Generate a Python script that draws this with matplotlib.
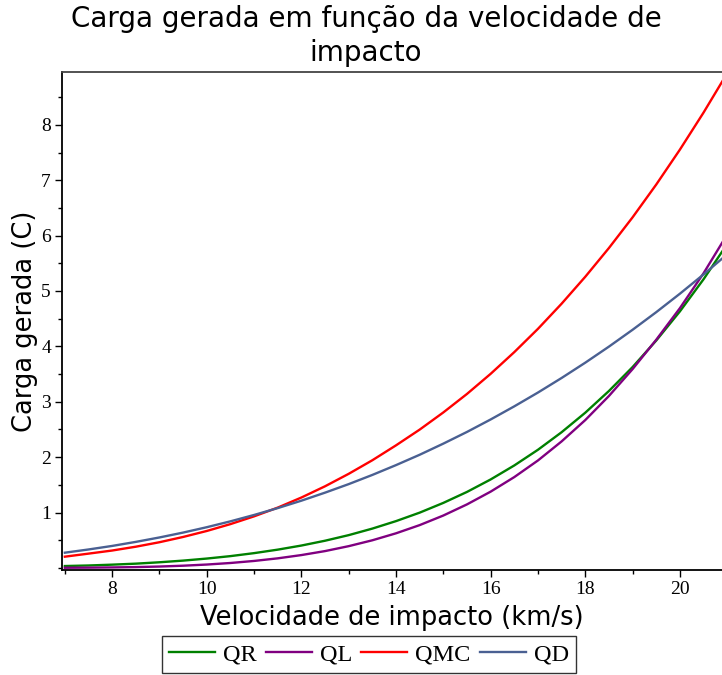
import matplotlib
matplotlib.use("Agg")
import matplotlib.pyplot as plt
from matplotlib.ticker import MultipleLocator

# velocidade de impacto (km/s) and charge
velocidade = [7.0, 7.5, 8.0, 8.5, 9.0, 9.5, 10.0, 10.5, 11.0, 11.5, 12.0, 12.5, 13.0, 13.5,
              14.0, 14.5, 15.0, 15.5, 16.0, 16.5, 17.0, 17.5, 18.0, 18.5, 19.0, 19.5,
              20.0, 20.5, 21.0]
QR = [0.035, 0.045, 0.060, 0.078, 0.103, 0.133, 0.170, 0.214, 0.268, 0.331, 0.405, 0.492,
      0.593, 0.711, 0.846, 0.999, 1.175, 1.373, 1.598, 1.851, 2.134, 2.451, 2.803, 3.195,
      3.627, 4.106, 4.632, 5.212, 5.847]
QL = [0.004, 0.006, 0.010, 0.016, 0.026, 0.041, 0.062, 0.090, 0.127, 0.174, 0.233, 0.305,
      0.394, 0.500, 0.626, 0.774, 0.947, 1.148, 1.378, 1.641, 1.941, 2.285, 2.670, 3.105,
      3.590, 4.120, 4.690, 5.320, 6.021]
QMC = [0.204, 0.259, 0.315, 0.384, 0.465, 0.560, 0.668, 0.792, 0.932, 1.090, 1.272, 1.475,
       1.700, 1.945, 2.214, 2.498, 2.808, 3.142, 3.505, 3.897, 4.317, 4.771, 5.257, 5.776,
       6.330, 6.922, 7.552, 8.221, 8.931]
QD = [0.276, 0.334, 0.398, 0.471, 0.551, 0.639, 0.736, 0.842, 0.957, 1.081, 1.215, 1.360,
      1.514, 1.680, 1.857, 2.044, 2.245, 2.456, 2.681, 2.918, 3.167, 3.430, 3.706, 3.996,
      4.300, 4.618, 4.951, 5.299, 5.663]

series = [("QR", QR, "#008000"), ("QL", QL, "#800080"),
          ("QMC", QMC, "#ff0000"), ("QD", QD, "#4a6092")]

fig = plt.figure(figsize=(7.22, 6.75), dpi=100)
ax = fig.add_axes([0.0859, 0.1556, 0.9141, 0.7377])

for name, vals, cor in series:
    ax.plot(velocidade, vals, color=cor, linewidth=1.7, label=name)

ax.set_xlim(6.94, 20.89)
ax.set_ylim(-0.036, 8.953)
ax.xaxis.set_major_locator(MultipleLocator(2))
ax.xaxis.set_minor_locator(MultipleLocator(1))
ax.set_yticks(range(1, 9))
ax.yaxis.set_minor_locator(MultipleLocator(0.5))
ax.tick_params(which="major", length=5, width=1, direction="out", pad=3)
ax.tick_params(which="minor", length=3, width=1, direction="out")
ax.tick_params(labelsize=14)
for lab in ax.get_xticklabels() + ax.get_yticklabels():
    lab.set_family("Liberation Serif")

ax.spines["right"].set_visible(False)
ax.spines["left"].set_linewidth(1.3)
ax.spines["bottom"].set_linewidth(1.3)
ax.spines["top"].set_linewidth(1.3)
ax.spines["top"].set_color("#444444")

ax.set_xlabel("Velocidade de impacto (km/s)", fontsize=18.5, family="DejaVu Sans", labelpad=5)
ax.set_ylabel("Carga gerada (C)", fontsize=18.5, family="DejaVu Sans", labelpad=2)

fig.text(0.507, 0.993, "Carga gerada em função da velocidade de\nimpacto", ha="center", va="top",
         fontsize=20, family="DejaVu Sans", linespacing=1.3)

leg = fig.legend(loc="lower center", bbox_to_anchor=(0.511, 0.0), ncol=4,
                 prop={"family": "Liberation Serif", "size": 17.5}, frameon=True,
                 fancybox=False, edgecolor="black", handlelength=1.9,
                 columnspacing=0.37, handletextpad=0.33, borderpad=0.3, borderaxespad=0.1)
leg.get_frame().set_linewidth(1.0)

fig.savefig("out.png", dpi=100)
